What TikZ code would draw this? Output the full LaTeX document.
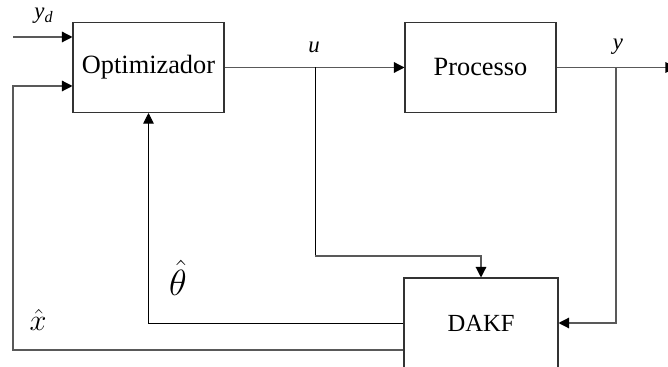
\documentclass[tikz,border=0pt]{standalone}
\usepackage{fontspec}
\setmainfont{Liberation Serif}
\usetikzlibrary{arrows.meta}
\tikzset{
    bloco/.style={draw=black!80, line width=0.6pt, minimum width=3.02cm,
        minimum height=1.8cm, inner sep=0pt, font=\fontsize{15}{18}\selectfont},
    sinal/.style={draw=black!65, line width=0.7pt},
    fino/.style={draw=black, line width=0.5pt},
    seta/.style={-{Triangle[length=6pt,width=6pt,color=black]}},
    rotulo/.style={inner sep=0pt, font=\fontsize{13}{15}\selectfont\itshape}
}
\begin{document}
\begin{tikzpicture}[x=0.02cm, y=-0.02cm]
    \useasboundingbox (0,0) rectangle (668,367);
    % blocos
    \node[bloco] (opt) at (148.5,67.5) {Optimizador};
    \node[bloco] (proc) at (480.5,67.5) {Processo};
    \node[bloco, minimum width=3.08cm, font=\fontsize{14}{17}\selectfont] (dakf) at (481,323) {DAKF};
    % pontos auxiliares
    \coordinate (ydin) at (13,37);
    \coordinate (xcanto) at (13,86);
    \coordinate (xbase) at (13,350);
    \coordinate (ramou) at (315,67.5);
    \coordinate (udesce) at (315,256);
    \coordinate (ramoy) at (616,67.5);
    \coordinate (saida) at (676,67.5);
    % sinais
    \draw[sinal, seta] (ydin) -- (ydin -| opt.west);
    \draw[sinal, seta] (opt.east) -- (proc.west);
    \draw[sinal, seta] (proc.east) -- (saida);
    \draw[fino] (ramou) -- (udesce);
    \draw[sinal, seta] (udesce) -| (dakf.north);
    \draw[sinal, seta] (ramoy) |- (dakf.east);
    \draw[fino, seta] (dakf.west) -| (opt.south);
    \draw[sinal, seta] (xbase -| dakf.west) -- (xbase) -- (xcanto) -- (xcanto -| opt.west);
    % rotulos
    \node[rotulo] (lyd) at (44,16) {y\textsubscript{d}};
    \node[rotulo] (lu) at (314,47) {u};
    \node[rotulo] (ly) at (618,47) {y};
    \node[inner sep=0pt, font=\fontsize{22}{26}\selectfont] (lteta) at (178,278) {$\hat{\theta}$};
    \node[inner sep=0pt, font=\fontsize{16}{19}\selectfont] (lx) at (38,320) {$\hat{x}$};
\end{tikzpicture}
\end{document}
